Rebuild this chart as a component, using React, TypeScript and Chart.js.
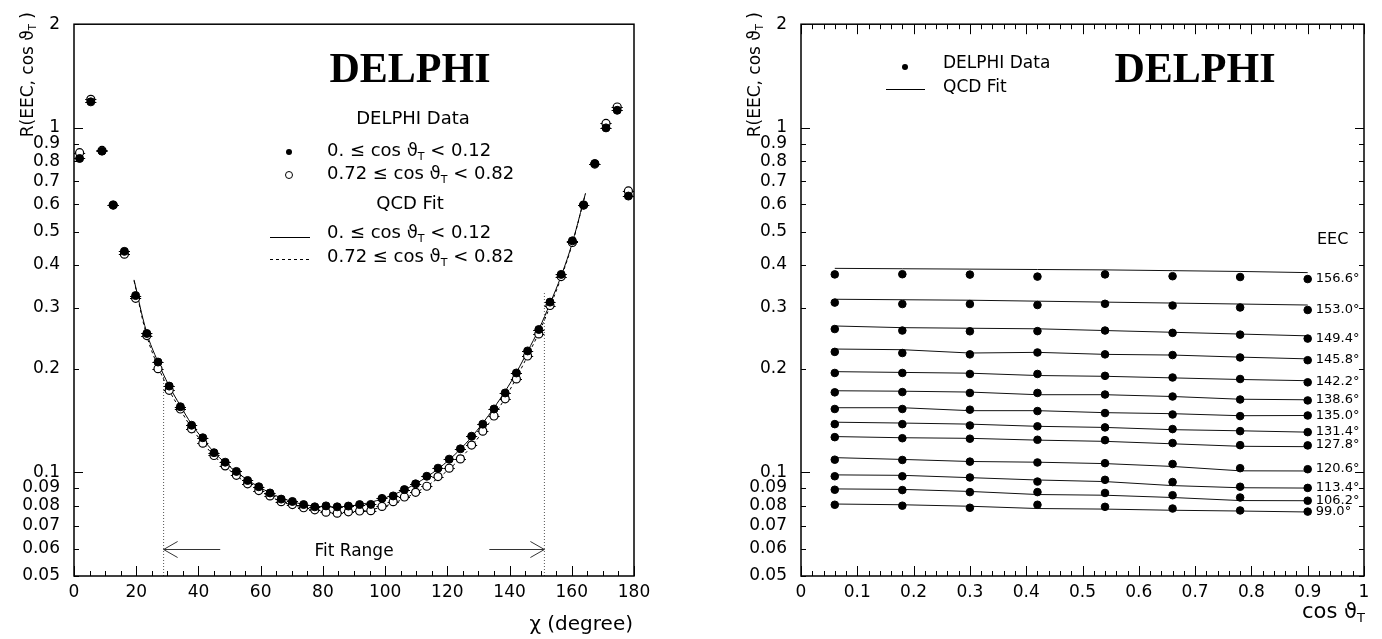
import React, { useEffect, useRef } from 'react';
import { Chart, registerables } from 'chart.js';

Chart.register(...registerables);

const SANS = '"DejaVu Sans", "Liberation Sans", sans-serif';
const TITLE_FONT = 'bold 42px "Liberation Serif", "Times New Roman", serif';

// ---------------- Left panel: R(EEC, cos theta_T) vs chi ----------------
const chiBins = [1.8, 5.4, 9.0, 12.6, 16.2, 19.8, 23.4, 27.0, 30.6, 34.2, 37.8, 41.4, 45.0, 48.6, 52.2, 55.8, 59.4, 63.0, 66.6, 70.2, 73.8, 77.4, 81.0, 84.6, 88.2, 91.8, 95.4, 99.0, 102.6, 106.2, 109.8, 113.4, 117.0, 120.6, 124.2, 127.8, 131.4, 135.0, 138.6, 142.2, 145.8, 149.4, 153.0, 156.6, 160.2, 163.8, 167.4, 171.0, 174.6, 178.2];
const chiBinHalfWidth = 1.8;
const rCos0to012 = [0.815, 1.19, 0.856, 0.597, 0.438, 0.326, 0.253, 0.209, 0.178, 0.155, 0.137, 0.126, 0.114, 0.107, 0.1006, 0.0947, 0.0908, 0.0871, 0.0836, 0.0823, 0.0806, 0.0794, 0.0799, 0.0794, 0.0798, 0.0806, 0.0807, 0.084, 0.0854, 0.0891, 0.0926, 0.0974, 0.1028, 0.1092, 0.117, 0.1273, 0.138, 0.1527, 0.17, 0.1943, 0.2251, 0.2598, 0.312, 0.3755, 0.47, 0.597, 0.788, 1.0, 1.125, 0.634];
const rCos072to082 = [0.847, 1.21, 0.86, 0.597, 0.43, 0.32, 0.2495, 0.2, 0.173, 0.1527, 0.1337, 0.1215, 0.1119, 0.1044, 0.098, 0.0926, 0.0885, 0.0854, 0.0822, 0.0806, 0.0789, 0.0778, 0.0766, 0.0761, 0.0768, 0.0772, 0.0774, 0.0796, 0.0822, 0.0848, 0.0875, 0.0911, 0.0972, 0.1028, 0.1094, 0.12, 0.1317, 0.1457, 0.1634, 0.1867, 0.2176, 0.2522, 0.305, 0.37, 0.465, 0.597, 0.785, 1.03, 1.15, 0.656];

const fitChi = [19.3, 23.4, 27.0, 30.6, 34.2, 37.8, 41.4, 45.0, 48.6, 52.2, 55.8, 59.4, 63.0, 66.6, 70.2, 73.8, 77.4, 81.0, 84.6, 88.2, 91.8, 95.4, 99.0, 102.6, 106.2, 109.8, 113.4, 117.0, 120.6, 124.2, 127.8, 131.4, 135.0, 138.6, 142.2, 145.8, 149.4, 153.0, 156.6, 160.2, 164.4];
const fitCos0to012 = [0.362, 0.254, 0.209, 0.178, 0.156, 0.138, 0.125, 0.1145, 0.1065, 0.1003, 0.095, 0.0908, 0.0872, 0.0843, 0.0822, 0.0807, 0.0798, 0.0794, 0.0794, 0.0798, 0.0806, 0.0819, 0.0837, 0.0861, 0.089, 0.0926, 0.097, 0.1023, 0.1088, 0.1168, 0.1267, 0.139, 0.154, 0.172, 0.195, 0.2245, 0.26, 0.309, 0.372, 0.465, 0.645];
const fitCos072to082 = [0.36, 0.249, 0.203, 0.173, 0.152, 0.1345, 0.1218, 0.1118, 0.104, 0.0978, 0.0927, 0.0885, 0.0851, 0.0823, 0.0802, 0.0786, 0.0774, 0.0767, 0.0764, 0.0765, 0.077, 0.0779, 0.0793, 0.0813, 0.0839, 0.0872, 0.0912, 0.0962, 0.1022, 0.1097, 0.1192, 0.1312, 0.146, 0.1645, 0.188, 0.218, 0.254, 0.303, 0.368, 0.462, 0.645];

const fitRangeChi = [28.8, 151.2];
const fitRangeTop = [0.195, 0.335];
const fitRangeArrowTail = [47, 133.5];
const fitRangeArrowY = 0.06;
const fitRangeLabelChi = 90;

// ---------------- Right panel: R vs cos theta_T for fixed chi ----------------
const cosBins = [0.06, 0.18, 0.3, 0.42, 0.54, 0.66, 0.78, 0.9];
const eecAngleLabels = ['156.6°', '153.0°', '149.4°', '145.8°', '142.2°', '138.6°', '135.0°', '131.4°', '127.8°', '120.6°', '113.4°', '106.2°', '99.0°'];

const data1566 = [0.3755, 0.376, 0.375, 0.37, 0.3755, 0.371, 0.369, 0.364];
const data1530 = [0.311, 0.308, 0.308, 0.306, 0.3085, 0.305, 0.301, 0.296];
const data1494 = [0.2606, 0.258, 0.2567, 0.257, 0.258, 0.254, 0.251, 0.2445];
const data1458 = [0.2237, 0.222, 0.22, 0.2228, 0.22, 0.219, 0.2155, 0.2116];
const data1422 = [0.1943, 0.1943, 0.193, 0.193, 0.1906, 0.1885, 0.1866, 0.1825];
const data1386 = [0.1707, 0.171, 0.17, 0.17, 0.1682, 0.166, 0.1627, 0.1617];
const data1350 = [0.1527, 0.1527, 0.152, 0.1506, 0.1486, 0.1472, 0.1456, 0.1462];
const data1314 = [0.138, 0.138, 0.1368, 0.136, 0.135, 0.1335, 0.1317, 0.1308];
const data1278 = [0.1265, 0.1256, 0.1252, 0.1243, 0.124, 0.1216, 0.1199, 0.1197];
const data1206 = [0.1088, 0.1086, 0.1074, 0.1068, 0.1063, 0.1057, 0.1028, 0.1021];
const data1134 = [0.0974, 0.0974, 0.0966, 0.094, 0.0951, 0.0937, 0.0908, 0.0901];
const data1062 = [0.089, 0.0888, 0.0876, 0.0876, 0.0871, 0.0858, 0.0845, 0.0827];
const data990 = [0.0805, 0.08, 0.0789, 0.0805, 0.0794, 0.0785, 0.0775, 0.0769];

const fit1566 = [0.391, 0.39, 0.389, 0.388, 0.387, 0.385, 0.383, 0.38];
const fit1530 = [0.318, 0.317, 0.316, 0.314, 0.312, 0.31, 0.308, 0.306];
const fit1494 = [0.266, 0.263, 0.262, 0.261, 0.258, 0.255, 0.252, 0.249];
const fit1458 = [0.228, 0.227, 0.222, 0.223, 0.22, 0.219, 0.216, 0.2135];
const fit1422 = [0.196, 0.195, 0.194, 0.191, 0.19, 0.188, 0.186, 0.1845];
const fit1386 = [0.1725, 0.172, 0.171, 0.168, 0.168, 0.166, 0.163, 0.1624];
const fit1350 = [0.154, 0.154, 0.151, 0.151, 0.149, 0.148, 0.146, 0.1462];
const fit1314 = [0.1398, 0.139, 0.138, 0.136, 0.135, 0.133, 0.132, 0.1308];
const fit1278 = [0.127, 0.126, 0.1255, 0.124, 0.123, 0.121, 0.119, 0.1187];
const fit1206 = [0.1103, 0.109, 0.1075, 0.107, 0.106, 0.104, 0.101, 0.1009];
const fit1134 = [0.0983, 0.098, 0.0965, 0.095, 0.094, 0.0915, 0.0902, 0.09];
const fit1062 = [0.0895, 0.0892, 0.088, 0.0862, 0.0858, 0.0845, 0.0828, 0.0827];
const fit990 = [0.0809, 0.0805, 0.0797, 0.0785, 0.0782, 0.0776, 0.0772, 0.0767];

const eecPointSeries = [data1566, data1530, data1494, data1458, data1422, data1386, data1350, data1314, data1278, data1206, data1134, data1062, data990];
const eecFitSeries = [fit1566, fit1530, fit1494, fit1458, fit1422, fit1386, fit1350, fit1314, fit1278, fit1206, fit1134, fit1062, fit990];

// ---------------- Axis ticks ----------------
const yTickValues = [0.05, 0.06, 0.07, 0.08, 0.09, 0.1, 0.2, 0.3, 0.4, 0.5, 0.6, 0.7, 0.8, 0.9, 1, 2];
const yTickLabels = ['0.05', '0.06', '0.07', '0.08', '0.09', '0.1', '0.2', '0.3', '0.4', '0.5', '0.6', '0.7', '0.8', '0.9', '1', '2'];
const yMajorTicks = [0.1, 1];
const chiTickLabels = ['0', '20', '40', '60', '80', '100', '120', '140', '160', '180'];
const cosTickLabels = ['0', '0.1', '0.2', '0.3', '0.4', '0.5', '0.6', '0.7', '0.8', '0.9', '1'];

type Part = { t: string; sub?: boolean };

function drawRich(ctx: CanvasRenderingContext2D, parts: Part[], x: number, y: number, size: number, align: 'left' | 'right' | 'center') {
  const fMain = `${size}px ${SANS}`;
  const fSub = `${Math.round(size * 0.6)}px ${SANS}`;
  const widths = parts.map((p) => {
    ctx.font = p.sub ? fSub : fMain;
    return ctx.measureText(p.t).width;
  });
  const total = widths.reduce((a, b) => a + b, 0);
  let cx = align === 'left' ? x : align === 'right' ? x - total : x - total / 2;
  ctx.textAlign = 'left';
  ctx.textBaseline = 'alphabetic';
  parts.forEach((p, i) => {
    ctx.font = p.sub ? fSub : fMain;
    ctx.fillText(p.t, cx, p.sub ? y + size * 0.2 : y);
    cx += widths[i];
  });
}

const cosRangeLow: Part[] = [{ t: '0. \u2264 cos \u03D1' }, { t: 'T', sub: true }, { t: ' < 0.12' }];
const cosRangeHigh: Part[] = [{ t: '0.72 \u2264 cos \u03D1' }, { t: 'T', sub: true }, { t: ' < 0.82' }];
const yTitle: Part[] = [{ t: 'R(EEC, cos \u03D1' }, { t: 'T', sub: true }, { t: ' )' }];

function yTitleDraw(ctx: CanvasRenderingContext2D, baselineX: number, topY: number) {
  ctx.save();
  ctx.translate(baselineX, topY);
  ctx.rotate(-Math.PI / 2);
  ctx.fillStyle = '#000';
  drawRich(ctx, yTitle, 0, 0, 17, 'right');
  ctx.restore();
}

function frameTicksPlugin(xStep: number, xCount: number, xMajorEvery: number, mirror: boolean) {
  return {
    id: 'frameTicks',
    afterDraw(chart: any) {
      const { ctx, chartArea: a } = chart;
      const xs = chart.scales.x;
      const ys = chart.scales.y;
      ctx.save();
      ctx.strokeStyle = '#000';
      ctx.lineWidth = 1;
      ctx.beginPath();
      for (let i = 0; i <= xCount; i++) {
        const px = Math.round(xs.getPixelForValue(i * xStep)) + 0.5;
        const len = i % xMajorEvery === 0 ? 10 : 5;
        ctx.moveTo(px, a.bottom);
        ctx.lineTo(px, a.bottom - len);
        if (mirror) {
          ctx.moveTo(px, a.top);
          ctx.lineTo(px, a.top + len);
        }
      }
      for (const v of yTickValues) {
        const py = Math.round(ys.getPixelForValue(v)) + 0.5;
        const len = yMajorTicks.includes(v) ? 9 : 5;
        ctx.moveTo(a.left, py);
        ctx.lineTo(a.left + len, py);
        if (mirror) {
          ctx.moveTo(a.right, py);
          ctx.lineTo(a.right - len, py);
        }
      }
      ctx.stroke();
      ctx.lineWidth = 1.5;
      ctx.strokeRect(a.left, a.top, a.right - a.left, a.bottom - a.top);
      ctx.restore();
    },
  };
}

function yScale(width: number) {
  return {
    type: 'logarithmic',
    min: 0.05,
    max: 2,
    grid: { display: false, drawTicks: false },
    border: { display: false },
    afterBuildTicks: (s: any) => {
      s.ticks = yTickValues.map((v) => ({ value: v }));
    },
    afterFit: (s: any) => {
      s.width = width;
    },
    ticks: {
      autoSkip: false,
      padding: 14,
      color: '#000',
      font: { family: SANS, size: 17 },
      callback: (v: number) => {
        const i = yTickValues.findIndex((t) => Math.abs(t - v) < 1e-9);
        return i >= 0 ? yTickLabels[i] : '';
      },
    },
  };
}

function leftConfig(): any {
  const filled = chiBins.map((x, i) => ({ x, y: rCos0to012[i] }));
  const open = chiBins.map((x, i) => ({ x, y: rCos072to082[i] }));
  const errorBars = {
    id: 'errorBars',
    beforeDatasetsDraw(chart: any) {
      const { ctx } = chart;
      const xs = chart.scales.x;
      const ys = chart.scales.y;
      ctx.save();
      ctx.strokeStyle = '#000';
      ctx.lineWidth = 1;
      ctx.beginPath();
      [rCos0to012, rCos072to082].forEach((arr) => {
        chiBins.forEach((c, i) => {
          const py = Math.round(ys.getPixelForValue(arr[i])) + 0.5;
          ctx.moveTo(xs.getPixelForValue(c - chiBinHalfWidth), py);
          ctx.lineTo(xs.getPixelForValue(c + chiBinHalfWidth), py);
        });
      });
      ctx.stroke();
      ctx.restore();
    },
  };
  const annotations = {
    id: 'leftAnnotations',
    afterDraw(chart: any) {
      const { ctx } = chart;
      const xs = chart.scales.x;
      const ys = chart.scales.y;
      ctx.save();
      ctx.fillStyle = '#000';
      ctx.strokeStyle = '#000';
      // Title
      ctx.font = TITLE_FONT;
      ctx.textAlign = 'center';
      ctx.textBaseline = 'alphabetic';
      ctx.fillText('DELPHI', 410, 82);
      // Legend
      drawRich(ctx, [{ t: 'DELPHI Data' }], 413, 124, 18, 'center');
      drawRich(ctx, cosRangeLow, 327, 156, 18, 'left');
      drawRich(ctx, cosRangeHigh, 327, 179, 18, 'left');
      drawRich(ctx, [{ t: 'QCD Fit' }], 410, 209, 18, 'center');
      drawRich(ctx, cosRangeLow, 327, 238, 18, 'left');
      drawRich(ctx, cosRangeHigh, 327, 262, 18, 'left');
      ctx.beginPath();
      ctx.arc(289, 152, 3, 0, Math.PI * 2);
      ctx.fill();
      ctx.beginPath();
      ctx.lineWidth = 1;
      ctx.arc(289, 175, 3.5, 0, Math.PI * 2);
      ctx.stroke();
      ctx.beginPath();
      ctx.moveTo(270, 237.5);
      ctx.lineTo(310, 237.5);
      ctx.stroke();
      ctx.setLineDash([3, 3]);
      ctx.beginPath();
      ctx.moveTo(270, 259.5);
      ctx.lineTo(310, 259.5);
      ctx.stroke();
      ctx.setLineDash([]);
      // Fit range arrows
      const ay = Math.round(ys.getPixelForValue(fitRangeArrowY)) + 0.5;
      ctx.strokeStyle = '#333';
      [0, 1].forEach((k) => {
        const tip = xs.getPixelForValue(fitRangeChi[k]);
        const tail = xs.getPixelForValue(fitRangeArrowTail[k]);
        const back = tail > tip ? 1 : -1;
        ctx.beginPath();
        ctx.moveTo(tail, ay);
        ctx.lineTo(tip, ay);
        ctx.moveTo(tip + back * 14, ay - 8);
        ctx.lineTo(tip, ay);
        ctx.lineTo(tip + back * 14, ay + 8);
        ctx.stroke();
      });
      ctx.fillStyle = '#000';
      drawRich(ctx, [{ t: 'Fit Range' }], xs.getPixelForValue(fitRangeLabelChi), ay + 6, 17, 'center');
      // Axis titles
      drawRich(ctx, [{ t: '\u03C7 (degree)' }], 633, 630, 20, 'right');
      yTitleDraw(ctx, 33, 12);
      ctx.restore();
    },
  };
  return {
    type: 'scatter',
    data: {
      datasets: [
        {
          label: '0. <= cos < 0.12',
          data: filled,
          pointRadius: 4,
          pointBackgroundColor: '#000',
          pointBorderColor: '#000',
          pointBorderWidth: 1,
          showLine: false,
        },
        {
          label: '0.72 <= cos < 0.82',
          data: open,
          pointRadius: 4,
          pointBackgroundColor: '#fff',
          pointBorderColor: '#000',
          pointBorderWidth: 1.2,
          showLine: false,
        },
        {
          type: 'line',
          label: 'QCD Fit low',
          data: fitChi.map((x, i) => ({ x, y: fitCos0to012[i] })),
          borderColor: '#000',
          borderWidth: 1,
          pointRadius: 0,
          tension: 0.4,
          fill: false,
        },
        {
          type: 'line',
          label: 'QCD Fit high',
          data: fitChi.map((x, i) => ({ x, y: fitCos072to082[i] })),
          borderColor: '#000',
          borderWidth: 1,
          borderDash: [3, 3],
          pointRadius: 0,
          tension: 0.4,
          fill: false,
        },
        {
          type: 'line',
          label: 'fit range low',
          data: [{ x: fitRangeChi[0], y: 0.05 }, { x: fitRangeChi[0], y: fitRangeTop[0] }],
          borderColor: '#555',
          borderWidth: 1,
          borderDash: [1, 2],
          pointRadius: 0,
          fill: false,
        },
        {
          type: 'line',
          label: 'fit range high',
          data: [{ x: fitRangeChi[1], y: 0.05 }, { x: fitRangeChi[1], y: fitRangeTop[1] }],
          borderColor: '#555',
          borderWidth: 1,
          borderDash: [1, 2],
          pointRadius: 0,
          fill: false,
        },
      ],
    },
    options: {
      animation: false,
      responsive: false,
      events: [],
      layout: { padding: { top: 12, right: 57, left: 0, bottom: 0 } },
      plugins: { legend: { display: false }, tooltip: { enabled: false } },
      scales: {
        x: {
          type: 'linear',
          min: 0,
          max: 180,
          grid: { display: false, drawTicks: false },
          border: { display: false },
          afterBuildTicks: (s: any) => {
            s.ticks = chiTickLabels.map((l) => ({ value: Number(l) }));
          },
          afterFit: (s: any) => {
            s.height = 63;
          },
          ticks: {
            autoSkip: false,
            maxRotation: 0,
            padding: 6,
            color: '#000',
            font: { family: SANS, size: 17 },
            callback: (v: number) => String(v),
          },
        },
        y: yScale(74),
      },
    },
    plugins: [errorBars, frameTicksPlugin(5, 36, 4, false), annotations],
  };
}

function rightConfig(): any {
  const datasets: any[] = [];
  eecPointSeries.forEach((arr, k) => {
    datasets.push({
      label: eecAngleLabels[k] + ' data',
      data: cosBins.map((x, i) => ({ x, y: arr[i] })),
      pointRadius: 3.8,
      pointBackgroundColor: '#000',
      pointBorderColor: '#000',
      showLine: false,
    });
  });
  eecFitSeries.forEach((arr, k) => {
    datasets.push({
      type: 'line',
      label: eecAngleLabels[k] + ' fit',
      data: cosBins.map((x, i) => ({ x, y: arr[i] })),
      borderColor: '#111',
      borderWidth: 1,
      pointRadius: 0,
      tension: 0,
      fill: false,
    });
  });
  const annotations = {
    id: 'rightAnnotations',
    afterDraw(chart: any) {
      const { ctx } = chart;
      const xs = chart.scales.x;
      const ys = chart.scales.y;
      ctx.save();
      ctx.fillStyle = '#000';
      ctx.strokeStyle = '#000';
      ctx.font = TITLE_FONT;
      ctx.textAlign = 'center';
      ctx.textBaseline = 'alphabetic';
      ctx.fillText('DELPHI', 504, 82);
      ctx.beginPath();
      ctx.arc(214, 67, 3, 0, Math.PI * 2);
      ctx.fill();
      ctx.lineWidth = 1;
      ctx.beginPath();
      ctx.moveTo(195, 89.5);
      ctx.lineTo(234, 89.5);
      ctx.stroke();
      drawRich(ctx, [{ t: 'DELPHI Data' }], 252, 68, 17, 'left');
      drawRich(ctx, [{ t: 'QCD Fit' }], 252, 92, 17, 'left');
      drawRich(ctx, [{ t: 'EEC' }], 626, 244, 16, 'left');
      const lx = xs.getPixelForValue(cosBins[cosBins.length - 1]) + 8;
      eecPointSeries.forEach((arr, k) => {
        const py = ys.getPixelForValue(arr[arr.length - 1]);
        drawRich(ctx, [{ t: eecAngleLabels[k] }], lx, py + 3, 13, 'left');
      });
      drawRich(ctx, [{ t: 'cos \u03D1' }, { t: 'T', sub: true }], 674, 618, 21, 'right');
      yTitleDraw(ctx, 69, 12);
      ctx.restore();
    },
  };
  return {
    type: 'scatter',
    data: { datasets },
    options: {
      animation: false,
      responsive: false,
      events: [],
      layout: { padding: { top: 12, right: 18, left: 0, bottom: 0 } },
      plugins: { legend: { display: false }, tooltip: { enabled: false } },
      scales: {
        x: {
          type: 'linear',
          min: 0,
          max: 1,
          grid: { display: false, drawTicks: false },
          border: { display: false },
          afterBuildTicks: (s: any) => {
            s.ticks = cosTickLabels.map((l) => ({ value: Number(l) }));
          },
          afterFit: (s: any) => {
            s.height = 63;
          },
          ticks: {
            autoSkip: false,
            maxRotation: 0,
            padding: 6,
            color: '#000',
            font: { family: SANS, size: 17 },
            callback: (v: number) => {
              const i = cosTickLabels.findIndex((l) => Math.abs(Number(l) - v) < 1e-9);
              return i >= 0 ? cosTickLabels[i] : '';
            },
          },
        },
        y: yScale(110),
      },
    },
    plugins: [frameTicksPlugin(0.02, 50, 5, true), annotations],
  };
}

export default function App() {
  const leftRef = useRef<HTMLCanvasElement>(null);
  const rightRef = useRef<HTMLCanvasElement>(null);
  useEffect(() => {
    const c1 = new Chart(leftRef.current as HTMLCanvasElement, leftConfig());
    const c2 = new Chart(rightRef.current as HTMLCanvasElement, rightConfig());
    return () => {
      c1.destroy();
      c2.destroy();
    };
  }, []);
  return (
    <div style={{ position: 'fixed', left: 0, top: 0, width: 1382, height: 639, background: '#fff' }}>
      <canvas ref={leftRef} width={691} height={639} style={{ position: 'absolute', left: 0, top: 0, width: 691, height: 639 }} />
      <canvas ref={rightRef} width={691} height={639} style={{ position: 'absolute', left: 691, top: 0, width: 691, height: 639 }} />
    </div>
  );
}
